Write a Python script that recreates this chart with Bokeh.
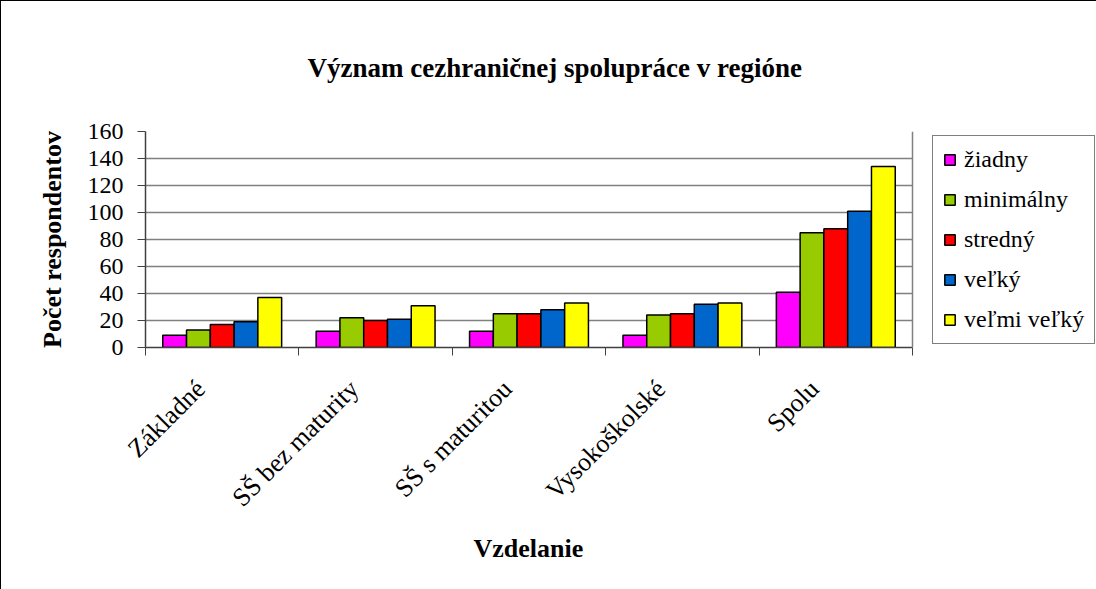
import numpy as np
from bokeh.plotting import figure
from bokeh.models import (Range1d, FixedTicker, Legend, LegendItem, ColumnDataSource, Title, Span)
from bokeh.embed import file_html
from bokeh.resources import INLINE

categories = ["Základné", "SŠ bez maturity", "SŠ s maturitou", "Vysokoškolské", "Spolu"]
series_names = ["žiadny", "minimálny", "stredný", "veľký", "veľmi veľký"]
ziadny = [9, 12, 12, 9, 41]
minimalny = [13, 22, 25, 24, 85]
stredny = [17, 20, 25, 25, 88]
velky = [19, 21, 28, 32, 101]
velmi_velky = [37, 31, 33, 33, 134]
colors = ["#FF00FF", "#99CC00", "#FF0000", "#0066CC", "#FFFF00"]
y_ticks = [0, 20, 40, 60, 80, 100, 120, 140, 160]

FONT = "Liberation Serif"

W, H = 1096, 589
ML, MT, MB = 144, 130, 243
PLOT_W = 767                 # width of the bar area (plot area border)
FRAME_W = W - ML             # frame runs to the right edge to host the legend
N = len(categories)
x_end = N * FRAME_W / PLOT_W

p = figure(width=W, height=H, output_backend="svg", toolbar_location=None,
           x_range=Range1d(0, x_end), y_range=Range1d(0, 160),
           min_border_left=ML, min_border_top=MT, min_border_right=0,
           min_border_bottom=MB)
p.styles = {"border-left": "1px solid black", "border-top": "1px solid black"}

p.title = Title(text="Význam cezhraničnej spolupráce v regióne", align="left",
                text_font=FONT, text_font_size="27px", text_font_style="bold",
                text_color="black", offset=162, standoff=98)

bw = 0.155
centers = np.arange(N) + 0.5
items = []
for i, (name, vals) in enumerate(zip(series_names, [ziadny, minimalny, stredny, velky, velmi_velky])):
    src = ColumnDataSource(dict(x=centers + (i - 2) * bw, top=vals))
    r = p.vbar(x="x", top="top", width=bw, bottom=0, source=src, fill_color=colors[i],
               line_color="black", line_width=1.5)
    items.append(LegendItem(label=name, renderers=[r]))

# Axes: category labels hang just left of each group centre, ticks at group boundaries
label_pos = centers - 0.14
p.xaxis.bounds = (0, N)
p.xaxis.ticker = FixedTicker(ticks=list(label_pos), minor_ticks=list(range(N + 1)))
p.xaxis.major_label_overrides = {float(c): lab for c, lab in zip(label_pos, categories)}
p.xaxis.major_label_orientation = np.pi / 4
p.xaxis.major_tick_out = 0
p.xaxis.major_tick_in = 0
p.xaxis.minor_tick_out = 8
p.xaxis.minor_tick_in = 0
p.xaxis.minor_tick_line_color = "#404040"
p.xaxis.major_label_text_font = FONT
p.xaxis.major_label_text_font_size = "26px"
p.xaxis.major_label_text_color = "black"
p.xaxis.major_label_standoff = 29
p.xaxis.axis_line_color = "#404040"
p.xaxis.axis_line_width = 1.5

# x-axis title, centred under the bar area
p.add_layout(Title(text="Vzdelanie", align="left", offset=328, standoff=12,
                   text_font=FONT, text_font_size="26px", text_font_style="bold",
                   text_color="black"), "below")

p.yaxis.ticker = FixedTicker(ticks=y_ticks)
p.yaxis.minor_tick_line_color = None
p.yaxis.major_tick_out = 8
p.yaxis.major_tick_in = 0
p.yaxis.major_tick_line_color = "#404040"
p.yaxis.major_label_text_font = FONT
p.yaxis.major_label_text_font_size = "24px"
p.yaxis.major_label_text_color = "black"
p.yaxis.major_label_standoff = 14
p.yaxis.axis_label = "Počet respondentov"
p.yaxis.axis_label_text_font = FONT
p.yaxis.axis_label_text_font_size = "26px"
p.yaxis.axis_label_text_font_style = "bold"
p.yaxis.axis_label_text_color = "black"
p.yaxis.axis_label_standoff = 18
p.yaxis.axis_line_color = "#404040"
p.yaxis.axis_line_width = 1.5

p.xgrid.grid_line_color = None
p.ygrid.grid_line_color = "#808080"
p.ygrid.grid_line_width = 1.5
p.ygrid.cross_bounds = (0, N)
p.outline_line_color = None
p.add_layout(Span(location=N, dimension="height", line_color="#808080", line_width=1.5))

legend = Legend(items=items, location=(PLOT_W + 20, 3), margin=0, padding=10,
                label_text_font=FONT, label_text_font_size="24px", label_text_color="black",
                label_height=20, glyph_height=13, glyph_width=13, spacing=13,
                label_standoff=8, border_line_color="black", border_line_width=1,
                background_fill_color="white")
p.add_layout(legend, "center")

open("out.html", "w").write(file_html(p, INLINE))
